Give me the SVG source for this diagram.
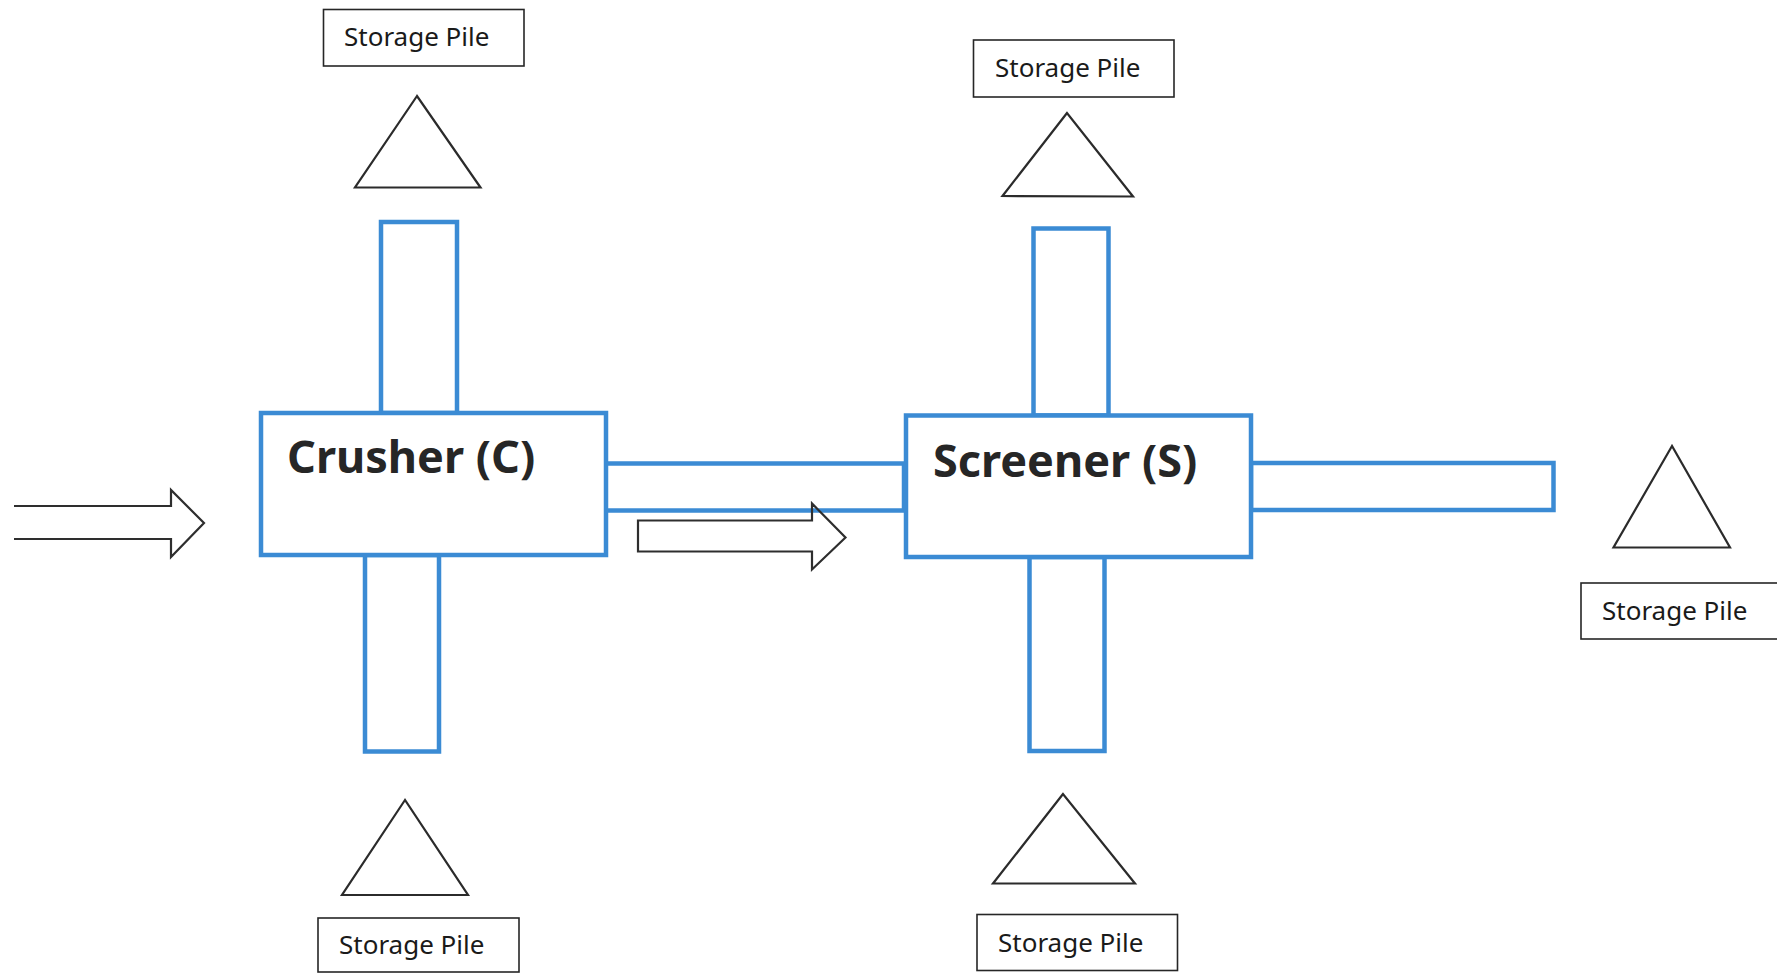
<svg xmlns="http://www.w3.org/2000/svg" width="1777" height="974" viewBox="0 0 1777 974">
<style>
.bg{fill:#ffffff}
.pile{fill:#ffffff;stroke:#262626;stroke-width:1.6}
.tri{fill:none;stroke:#2b2b2b;stroke-width:2.2;stroke-linejoin:miter}
.conv{fill:#ffffff;stroke:#3b8bd4;stroke-width:4.5}
.unit{fill:#ffffff;stroke:#3b8bd4;stroke-width:4.5}
.arrow{fill:none;stroke:#2e2e2e;stroke-width:2.2;stroke-linejoin:miter}
.lbl{font-family:"Noto Sans","Open Sans","Liberation Sans",sans-serif;font-size:26px;fill:#1a1a1a}
.title{font-family:"Noto Sans","Open Sans","Liberation Sans",sans-serif;font-size:45px;font-weight:bold;fill:#262626}
</style>
<rect class="bg" x="0" y="0" width="1777" height="974"/>

<g id="connectors">
  <rect id="conv-c-top" class="conv" x="381" y="222" width="76" height="191"/>
  <rect id="conv-c-bottom" class="conv" x="365" y="555" width="74" height="196.5"/>
  <rect id="conv-c-s" class="conv" x="604" y="463.5" width="300" height="47"/>
  <rect id="conv-s-top" class="conv" x="1033.5" y="228.5" width="75" height="187"/>
  <rect id="conv-s-bottom" class="conv" x="1029.5" y="557" width="75" height="194"/>
  <rect id="conv-s-right" class="conv" x="1251" y="463" width="302.5" height="47"/>
  <path id="arrow-in" class="arrow" d="M14,506 L171,506 L171,490 L204,523 L171,557 L171,539 L14,539"/>
  <path id="arrow-mid" class="arrow" d="M638,520.5 L812,520.5 L812,503.5 L845.5,537.5 L812,569.5 L812,551.5 L638,551.5 Z"/>
</g>

<g id="crusher">
  <rect class="unit" x="261" y="413" width="345" height="142"/>
  <text class="title" x="287" y="473">Crusher (C)</text>
</g>

<g id="screener">
  <rect class="unit" x="906" y="415.5" width="345" height="141.5"/>
  <text class="title" x="933" y="477">Screener (S)</text>
</g>

<g id="pile-c-top">
  <polygon class="tri" points="417,96 355,187.5 480.5,187.5"/>
  <rect class="pile" x="323.5" y="9.5" width="200.5" height="56.5"/>
  <text class="lbl" x="344" y="46">Storage Pile</text>
</g>

<g id="pile-s-top">
  <polygon class="tri" points="1067,113 1002.5,196 1133,196.5"/>
  <rect class="pile" x="973.5" y="40" width="200.5" height="57"/>
  <text class="lbl" x="995" y="77">Storage Pile</text>
</g>

<g id="pile-c-bottom">
  <polygon class="tri" points="405,800 342,895 468,895"/>
  <rect class="pile" x="318" y="918" width="201" height="54"/>
  <text class="lbl" x="339" y="954">Storage Pile</text>
</g>

<g id="pile-s-bottom">
  <polygon class="tri" points="1063,794 993,883.5 1135,883.5"/>
  <rect class="pile" x="977" y="914.5" width="200.5" height="56"/>
  <text class="lbl" x="998" y="952">Storage Pile</text>
</g>

<g id="pile-s-right">
  <polygon class="tri" points="1672,446 1613.5,547.5 1730,547.5"/>
  <rect class="pile" x="1581" y="583" width="210" height="56"/>
  <text class="lbl" x="1602" y="620">Storage Pile</text>
</g>
</svg>
